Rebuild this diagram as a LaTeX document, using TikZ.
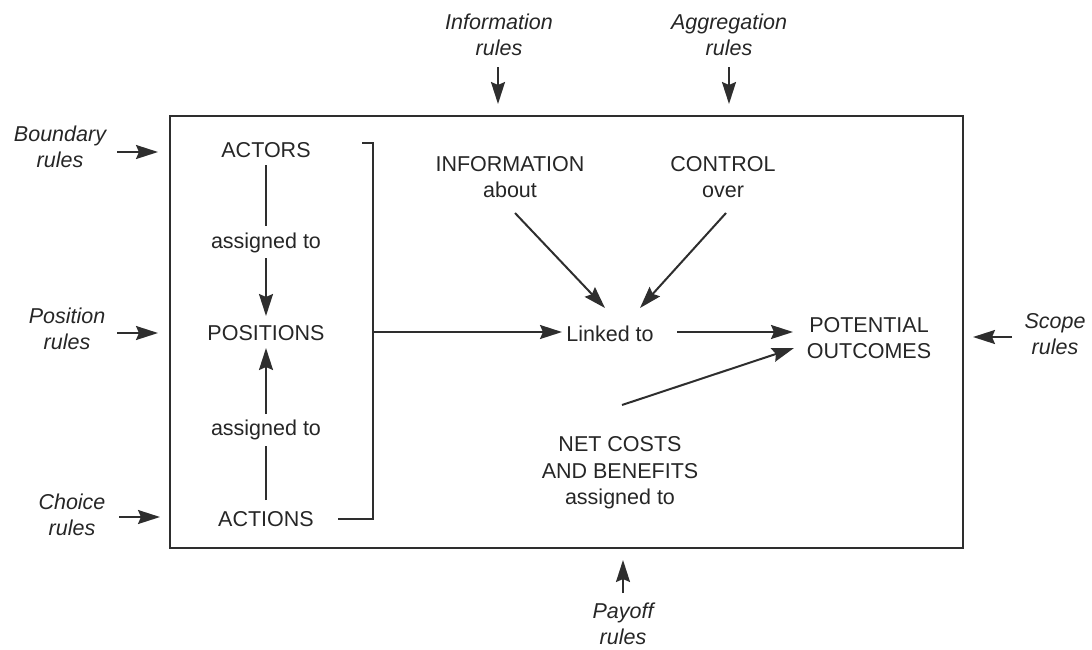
\documentclass[tikz,border=0pt]{standalone}
\usepackage{fontspec}
\setmainfont{Liberation Sans}
\usetikzlibrary{arrows.meta}
\definecolor{ink}{HTML}{262626}
\definecolor{linec}{HTML}{2E2E2E}
\begin{document}
\begin{tikzpicture}[x=1pt,y=-1pt,
  txt/.style={font=\fontsize{21.5}{26.5}\selectfont, text=ink, align=center, inner sep=2pt},
  rule/.style={txt, font=\fontsize{21.5}{26.5}\selectfont\itshape},
  ln/.style={draw=linec, line width=2pt},
  arr/.style={ln, -{Stealth[length=22pt,width=14pt,inset=3pt]}}]
  \useasboundingbox (0,0) rectangle (1092,649);

  % frame of the action situation
  \draw[ln] (170,116) rectangle (963,548);

  % left column
  \node[txt] (actors) at (266,150) {ACTORS};
  \node[txt] (asg1) at (266,243) {assigned to};
  \node[txt] (positions) at (266,333) {POSITIONS};
  \node[txt] (asg2) at (266,430) {assigned to};
  \node[txt] (actions) at (266,519) {ACTIONS};

  \coordinate (a1) at (266,165);
  \coordinate (a2) at (266,226);
  \coordinate (a3) at (266,258);
  \coordinate (a4) at (266,316);
  \draw[ln] (a1) -- (a2);
  \draw[arr] (a3) -- (a4);
  \coordinate (b1) at (266,500);
  \coordinate (b2) at (266,446);
  \coordinate (b3) at (266,414);
  \coordinate (b4) at (266,348);
  \draw[ln] (b1) -- (b2);
  \draw[arr] (b3) -- (b4);

  % bracket gathering the column
  \coordinate (brt) at (373,143);
  \coordinate (brb) at (373,519);
  \coordinate (brm) at (373,332);
  \draw[ln] (362,143) -- (brt) -- (brb) -- (338,519);

  % centre part
  \node[txt] (info) at (510,177) {INFORMATION\\about};
  \node[txt] (control) at (723,177) {CONTROL\\over};
  \node[txt] (linked) at (610,334) {Linked to};
  \node[txt] (potential) at (869,338) {POTENTIAL\\OUTCOMES};
  \node[txt] (netcosts) at (620,473) {NET COSTS\\AND BENEFITS\\assigned to};

  \coordinate (lkin) at (562,332);
  \draw[arr] (brm) -- (lkin);
  \coordinate (lkout) at (677,332);
  \coordinate (poin) at (793,332);
  \draw[arr] (lkout) -- (poin);
  \coordinate (infoout) at (515,213);
  \coordinate (lkinfo) at (605,308);
  \draw[arr] (infoout) -- (lkinfo);
  \coordinate (ctrlout) at (726,213);
  \coordinate (lkctrl) at (640,308);
  \draw[arr] (ctrlout) -- (lkctrl);
  \coordinate (ncout) at (622,405);
  \coordinate (ponc) at (794,348);
  \draw[arr] (ncout) -- (ponc);

  % rule labels around the frame
  \node[rule] (boundary) at (60,147) {Boundary\\rules};
  \node[rule] (position) at (67,329) {Position\\rules};
  \node[rule] (choice) at (72,515) {Choice\\rules};
  \node[rule] (inforules) at (499,35) {Information\\rules};
  \node[rule] (aggrules) at (729,35) {Aggregation\\rules};
  \node[rule] (scope) at (1055,334) {Scope\\rules};
  \node[rule] (payoff) at (623,624) {Payoff\\rules};

  \coordinate (bd1) at (117,152);
  \coordinate (bd2) at (158,152);
  \coordinate (ps1) at (117,333);
  \coordinate (ps2) at (158,333);
  \coordinate (ch1) at (119,517);
  \coordinate (ch2) at (160,517);
  \coordinate (ir1) at (498,67);
  \coordinate (ir2) at (498,104);
  \coordinate (ag1) at (729,67);
  \coordinate (ag2) at (729,104);
  \coordinate (sc1) at (1012,337);
  \coordinate (sc2) at (973,337);
  \coordinate (po1) at (623,593);
  \coordinate (po2) at (623,560);
  \draw[arr] (bd1) -- (bd2);
  \draw[arr] (ps1) -- (ps2);
  \draw[arr] (ch1) -- (ch2);
  \draw[arr] (ir1) -- (ir2);
  \draw[arr] (ag1) -- (ag2);
  \draw[arr] (sc1) -- (sc2);
  \draw[arr] (po1) -- (po2);
\end{tikzpicture}
\end{document}
